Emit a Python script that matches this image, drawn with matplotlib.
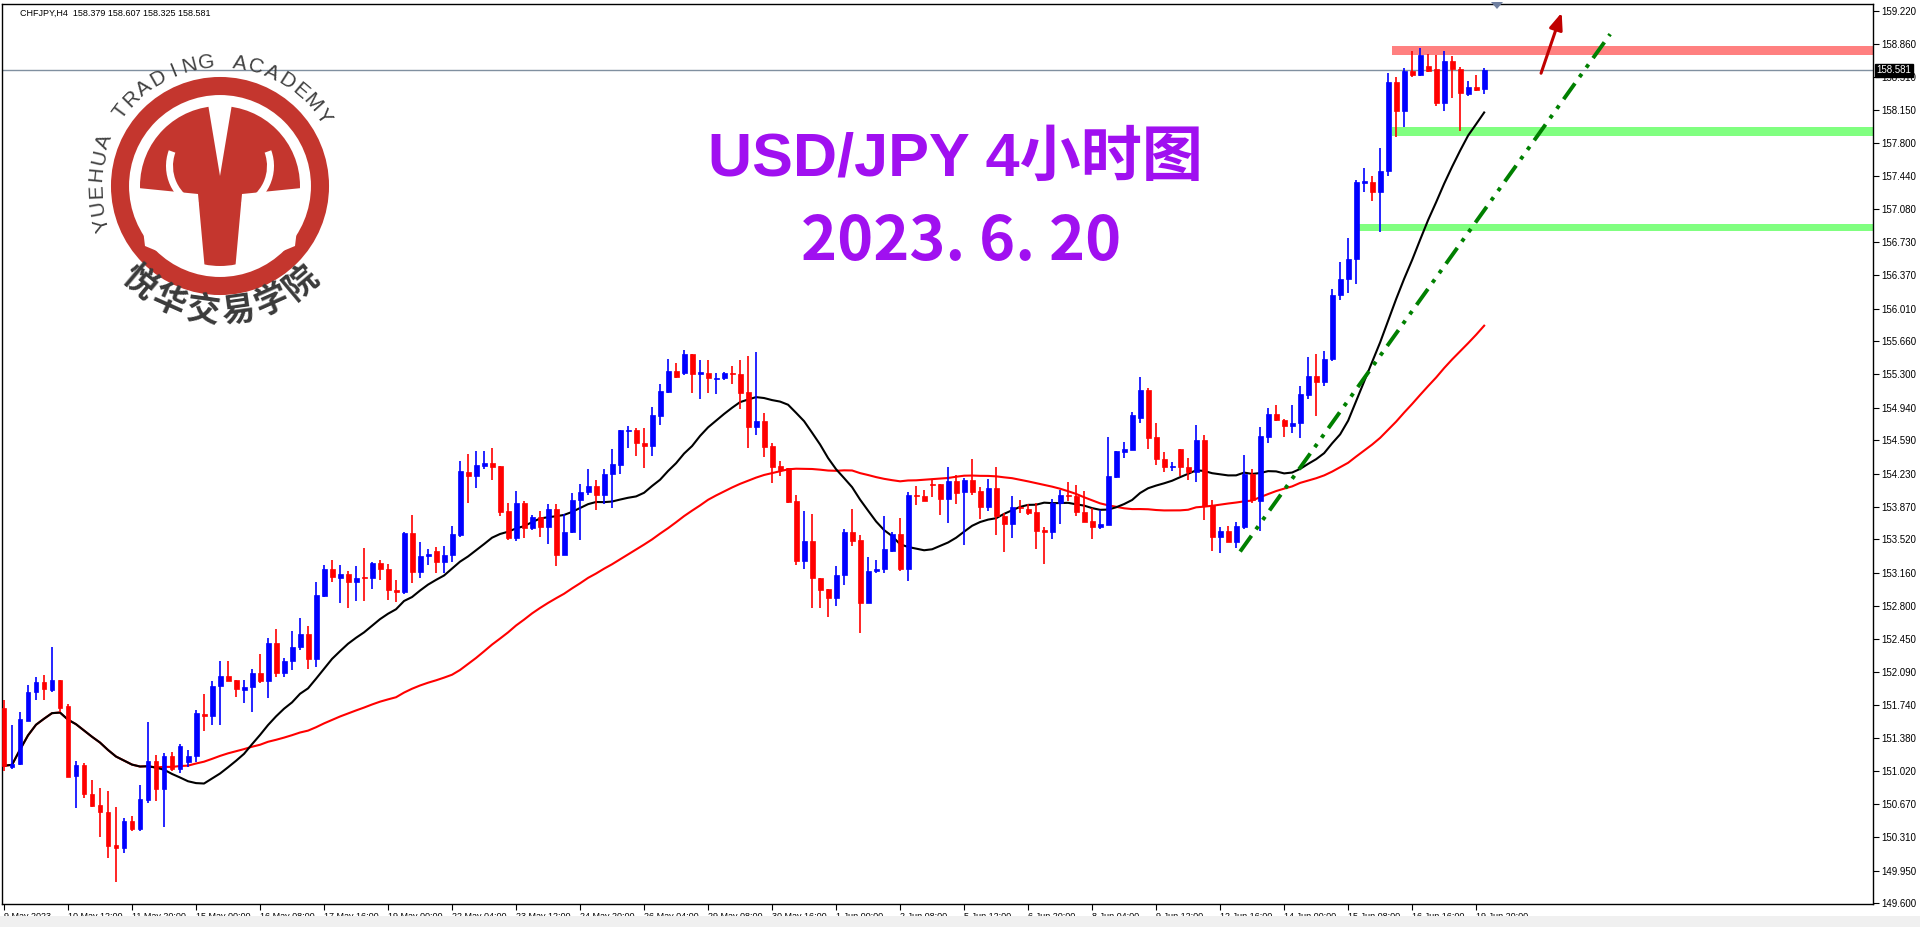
import numpy as np
import pandas as pd
import matplotlib
matplotlib.use("Agg")
import matplotlib.pyplot as plt
from matplotlib.patches import Rectangle, Circle, Polygon, Wedge

plt.rcParams['font.family'] = ['Noto Sans CJK SC', 'DejaVu Sans']

# ---------------- data (OHLC, H4 bars) ----------------
opens = [151.70,151.07,151.10,151.56,151.87,151.98,151.90,152.01,151.72,150.97,
         151.09,150.78,150.66,150.58,150.23,150.19,150.48,150.40,150.71,151.13,
         150.83,151.18,151.04,151.12,151.18,151.64,151.62,151.94,152.05,152.00,
         151.90,151.93,152.08,151.99,152.40,152.08,152.21,152.36,152.50,152.23,
         152.91,153.20,153.11,153.15,153.06,153.11,153.10,153.27,153.20,152.98,
         152.95,153.59,153.17,153.34,153.40,153.28,153.35,153.57,154.25,154.21,
         154.31,154.35,154.31,153.83,153.54,153.91,153.64,153.76,153.65,153.85,
         153.35,153.60,153.95,154.03,154.10,154.00,154.23,154.32,154.69,154.70,
         154.56,154.53,154.85,155.11,155.34,155.32,155.52,155.31,155.32,155.25,
         155.26,155.31,155.30,155.11,154.73,154.80,154.53,154.31,154.29,153.94,
         153.29,153.50,153.11,152.99,152.89,153.14,153.60,153.51,152.84,153.18,
         153.20,153.40,153.58,153.20,154.00,153.99,154.12,154.12,153.96,154.15,
         154.03,154.16,154.04,153.87,154.08,153.77,153.69,153.87,153.85,153.82,
         153.62,153.60,153.91,154.00,153.99,153.82,153.72,153.66,153.68,154.19,
         154.46,154.49,154.83,155.13,154.62,154.39,154.30,154.50,154.30,154.25,
         154.59,153.89,153.55,153.61,153.49,153.65,154.23,153.94,154.63,154.87,
         154.81,154.74,154.78,155.08,155.28,155.22,155.47,156.16,156.33,156.54,
         157.36,157.38,157.27,157.49,158.45,158.14,158.57,158.53,158.63,158.59,
         158.23,158.68,158.59,158.32,158.40,158.379]
highs = [151.79,151.52,151.66,151.95,152.04,152.06,152.36,152.01,151.75,151.13,
         151.11,150.93,150.84,150.81,150.64,150.52,150.54,150.87,151.55,151.20,
         151.22,151.23,151.31,151.25,151.68,151.85,151.99,152.21,152.21,152.00,
         152.00,152.12,152.29,152.46,152.56,152.24,152.53,152.67,152.59,153.06,
         153.25,153.30,153.24,153.18,153.23,153.43,153.28,153.30,153.26,153.08,
         153.60,153.78,153.49,153.42,153.44,153.45,153.67,154.37,154.44,154.47,
         154.47,154.51,154.31,153.91,154.04,153.94,153.78,153.83,153.90,153.90,
         153.80,154.02,154.12,154.28,154.16,154.28,154.50,154.70,154.74,154.72,
         154.72,154.95,155.20,155.47,155.42,155.56,155.52,155.46,155.46,155.32,
         155.33,155.39,155.46,155.50,155.54,154.88,154.56,154.37,154.29,154.00,
         153.83,153.80,153.11,152.99,153.23,153.63,153.85,153.57,153.33,153.30,
         153.77,153.60,153.75,154.03,154.10,154.05,154.16,154.12,154.30,154.22,
         154.18,154.39,154.09,154.17,154.30,153.81,153.99,153.95,153.90,153.91,
         153.66,153.96,154.05,154.14,154.11,154.04,153.86,153.84,154.62,154.47,
         154.57,154.89,155.27,155.15,154.78,154.46,154.36,154.50,154.40,154.76,
         154.65,153.95,153.66,153.67,153.71,154.43,154.28,154.73,154.94,154.97,
         154.82,154.97,155.18,155.49,155.52,155.55,156.22,156.51,156.77,157.40,
         157.53,157.44,157.74,158.55,158.51,158.61,158.79,158.82,158.76,158.74,
         158.79,158.73,158.62,158.46,158.53,158.607]
lows = [151.02,151.04,151.09,151.56,151.79,151.79,151.88,151.66,150.96,150.62,
        150.73,150.63,150.31,150.08,149.83,150.14,150.38,150.38,150.68,150.70,
        150.42,151.02,151.00,151.07,151.12,151.46,151.52,151.52,151.99,151.82,
        151.76,151.66,151.97,151.81,152.04,152.04,152.11,152.33,152.12,152.14,
        152.90,153.06,152.83,152.78,152.86,152.86,152.99,153.08,152.87,152.85,
        152.93,153.05,153.10,153.25,153.16,153.16,153.28,153.55,153.91,154.08,
        154.28,154.16,153.77,153.51,153.50,153.54,153.62,153.55,153.47,153.23,
        153.35,153.59,153.51,154.00,153.84,153.90,153.86,154.23,154.51,154.42,
        154.29,154.42,154.75,155.10,155.26,155.29,155.10,155.04,155.10,155.09,
        155.24,155.20,154.93,154.51,154.65,154.41,154.13,154.20,153.91,153.24,
        153.20,152.78,152.78,152.68,152.80,153.03,153.45,152.51,152.83,153.16,
        153.16,153.38,153.18,153.07,153.89,153.93,153.98,153.78,153.70,153.90,
        153.46,154.00,153.74,153.83,153.57,153.38,153.54,153.81,153.78,153.42,
        153.26,153.53,153.69,153.94,153.77,153.71,153.52,153.63,153.68,154.18,
        154.40,154.48,154.78,154.50,154.32,154.25,154.26,154.20,154.16,154.14,
        153.73,153.40,153.37,153.49,153.43,153.63,153.91,153.61,154.56,154.80,
        154.63,154.67,154.61,155.03,154.85,155.18,155.45,156.10,156.18,156.27,
        157.27,157.17,156.84,157.44,157.86,157.97,158.51,158.52,158.56,158.19,
        158.14,158.28,157.92,158.30,158.36,158.325]
closes = [151.08,151.10,151.58,151.87,151.98,151.91,152.01,151.70,150.96,151.09,
          150.78,150.65,150.58,150.21,150.19,150.48,150.40,150.72,151.13,150.83,
          151.18,151.05,151.29,151.18,151.65,151.62,151.94,152.05,151.99,151.91,
          151.93,152.08,151.99,152.40,152.08,152.21,152.36,152.50,152.23,152.92,
          153.20,153.12,153.15,153.06,153.10,153.10,153.27,153.20,152.98,152.95,
          153.59,153.17,153.34,153.36,153.28,153.35,153.58,154.26,154.21,154.32,
          154.35,154.30,153.82,153.54,153.91,153.64,153.76,153.65,153.85,153.35,
          153.60,153.95,154.03,154.10,154.00,154.23,154.33,154.70,154.70,154.56,
          154.53,154.86,155.12,155.34,155.27,155.52,155.31,155.32,155.26,155.26,
          155.32,155.30,155.10,154.73,154.80,154.52,154.30,154.27,153.92,153.29,
          153.50,153.10,152.98,152.89,153.14,153.60,153.50,152.84,153.18,153.20,
          153.42,153.58,153.20,154.00,153.99,153.94,154.11,153.96,154.15,154.02,
          154.16,154.03,153.87,154.07,153.77,153.69,153.87,153.86,153.81,153.61,
          153.60,153.91,154.00,153.99,153.82,153.71,153.66,153.69,154.21,154.47,
          154.50,154.86,155.13,154.61,154.39,154.30,154.31,154.30,154.25,154.59,
          153.88,153.55,153.61,153.49,153.67,154.23,153.95,154.64,154.87,154.81,
          154.74,154.78,155.09,155.28,155.22,155.47,156.16,156.33,156.54,157.37,
          157.39,157.27,157.49,158.45,158.14,158.57,158.53,158.74,158.57,158.23,
          158.68,158.59,158.34,158.40,158.37,158.581]

x_labels = ["9 May 2023", "10 May 12:00", "11 May 20:00", "15 May 00:00", "16 May 08:00",
            "17 May 16:00", "19 May 00:00", "22 May 04:00", "23 May 12:00", "24 May 20:00",
            "26 May 04:00", "29 May 08:00", "30 May 16:00", "1 Jun 00:00", "2 Jun 08:00",
            "5 Jun 12:00", "6 Jun 20:00", "8 Jun 04:00", "9 Jun 12:00", "12 Jun 16:00",
            "14 Jun 00:00", "15 Jun 08:00", "16 Jun 16:00", "19 Jun 20:00"]
y_ticks = [159.220, 158.860, 158.510, 158.150, 157.800, 157.440, 157.080, 156.730,
           156.370, 156.010, 155.660, 155.300, 154.940, 154.590, 154.230, 153.870,
           153.520, 153.160, 152.800, 152.450, 152.090, 151.740, 151.380, 151.020,
           150.670, 150.310, 149.950, 149.600]
last_price = 158.581
resist_zone = (158.75, 158.84)
support_zones = [(157.87, 157.97), (156.85, 156.92)]
zone_start = [173.5, 169.2]
trend_x = [154.5, 200.75]
trend_y = [153.39, 158.97]
arrow_x = [192.0, 194.8]
arrow_y = [158.52, 159.23]
ma_fast, ma_slow = 18, 50

# ---------------- figure ----------------
W, H = 1920, 927
fig = plt.figure(figsize=(W / 100, H / 100), dpi=100)
fig.patch.set_facecolor('white')
ax = fig.add_axes([2 / W, 1 - 904 / H, (1873 - 2) / W, 900 / H])
ax.set_facecolor('white')
n = len(closes)
idx = np.arange(n)

ax.set_xlim(-0.25, 233.6)
ax.set_ylim(149.589, 159.295)

s = pd.Series(closes)
ax.plot(idx, s.rolling(ma_slow, min_periods=1).mean(), color='#FF0000', lw=1.5, zorder=2)
ax.plot(idx, s.rolling(ma_fast, min_periods=1).mean(), color='black', lw=1.5, zorder=2)

bw = 0.62
for i in range(n):
    o, h, l, c = opens[i], highs[i], lows[i], closes[i]
    col = '#0000FF' if c >= o else '#FF0000'
    ax.vlines(i, l, h, color=col, lw=1.2, zorder=3)
    b = min(o, c)
    hgt = max(abs(c - o), 0.012)
    ax.add_patch(Rectangle((i - bw / 2, b), bw, hgt, facecolor=col, edgecolor=col, lw=0.5, zorder=4))

# zones
ax.add_patch(Rectangle((zone_start[0], resist_zone[0]), 300, resist_zone[1] - resist_zone[0],
                       facecolor='#FF8080', edgecolor='none', zorder=1))
ax.add_patch(Rectangle((zone_start[0], support_zones[0][0]), 300, support_zones[0][1] - support_zones[0][0],
                       facecolor='#80FF80', edgecolor='none', zorder=1))
ax.add_patch(Rectangle((zone_start[1], support_zones[1][0]), 300, support_zones[1][1] - support_zones[1][0],
                       facecolor='#80FF80', edgecolor='none', zorder=1))
ax.axhline(last_price, color='#8090A0', lw=1, zorder=1)
ax.plot(trend_x, trend_y, color='#008000', lw=2.8, ls=(0, (5, 2, 1, 2, 1, 2)), zorder=5)
ax.annotate('', xy=(arrow_x[1], arrow_y[1]), xytext=(arrow_x[0], arrow_y[0]),
            arrowprops=dict(arrowstyle='-|>,head_width=0.4,head_length=1.0', color='#C00000', lw=2.2),
            zorder=6)

# axes styling
for sp in ['top', 'left', 'bottom', 'right']:
    ax.spines[sp].set_color('black')
    ax.spines[sp].set_linewidth(1)
ax.yaxis.tick_right()
ax.set_yticks(y_ticks)
ax.set_yticklabels([f"{v:.3f}" for v in y_ticks], fontsize=7, family='Liberation Sans')
ax.tick_params(axis='y', length=4, pad=2, colors='black')
ax.set_xticks(np.arange(0, 8 * len(x_labels), 8))
ax.set_xticklabels(x_labels, fontsize=6.5, family='Liberation Sans', ha='left')
ax.tick_params(axis='x', length=4, pad=2)
ax.text(1.0017, last_price, f"{last_price:.3f}", transform=ax.get_yaxis_transform(), fontsize=7,
        family='Liberation Sans', color='white', va='center', ha='left',
        bbox=dict(boxstyle='square,pad=0.15', fc='black', ec='black'), zorder=10, clip_on=False)

# ---------------- overlay (pixel coords) ----------------
ov = fig.add_axes([0, 0, 1, 1], facecolor='none')
ov.set_xlim(0, W)
ov.set_ylim(H, 0)
ov.axis('off')
ov.add_patch(Rectangle((0, 916), W, 11, facecolor='#F0F0F0', edgecolor='none'))
ov.text(20, 13, "CHFJPY,H4  158.379 158.607 158.325 158.581", fontsize=6.5, family='Liberation Sans',
        va='center', ha='left', color='black')
ov.add_patch(Polygon([[1491, 2], [1503, 2], [1497, 9]], closed=True, fc='#7080A0', ec='none'))

purple = '#A010F0'
ov.text(955, 160, "USD/JPY 4小时图", fontsize=44, fontweight='bold', color=purple,
        family=['Liberation Sans', 'Noto Sans CJK SC'], ha='center', va='center')
ov.text(961, 242, "2023. 6. 20", fontsize=44, fontweight='bold', color=purple,
        family=['Noto Sans CJK SC'], ha='center', va='center')

# logo
cx, cy = 220, 186
red = '#C4362E'
ov.add_patch(Circle((cx, cy), 100, fc='none', ec=red, lw=13))
ov.add_patch(Circle((cx, cy), 80, fc=red, ec='none'))
ov.add_patch(Polygon([[cx - 82, cy + 2], [cx - 22, cy + 8], [cx - 15, cy + 85], [cx - 75, cy + 60]],
                     closed=True, fc='white', ec='none'))
ov.add_patch(Polygon([[cx + 82, cy + 2], [cx + 22, cy + 8], [cx + 15, cy + 85], [cx + 75, cy + 60]],
                     closed=True, fc='white', ec='none'))
ov.add_patch(Polygon([[cx - 12, cy - 82], [cx + 12, cy - 82], [cx, cy - 10]], closed=True, fc='white', ec='none'))
ov.add_patch(Wedge((cx - 8, cy - 20), 46, 110, 200, width=7, fc='white', ec='none'))
ov.add_patch(Wedge((cx + 8, cy - 20), 46, -20, 70, width=7, fc='white', ec='none'))

txt = "YUEHUA TRADING ACADEMY"
a0, a1, r = 198, 34, 124
angs = np.linspace(a0, a1, len(txt))
for ch, a in zip(txt, angs):
    t = np.deg2rad(a)
    ov.text(cx + r * np.cos(t), cy - r * np.sin(t), ch, fontsize=15, color='#404040',
            family='Liberation Sans', rotation=a - 90, ha='center', va='center')
zh = "悦华交易学院"
angs = np.linspace(-130, -50, len(zh))
for ch, a in zip(zh, angs):
    t = np.deg2rad(a)
    ov.text(cx + 126 * np.cos(t), cy - 126 * np.sin(t), ch, fontsize=24, fontweight='bold',
            color='#3A3A3A', rotation=a + 90, ha='center', va='center')

fig.savefig("out.png", dpi=100, facecolor='white')
